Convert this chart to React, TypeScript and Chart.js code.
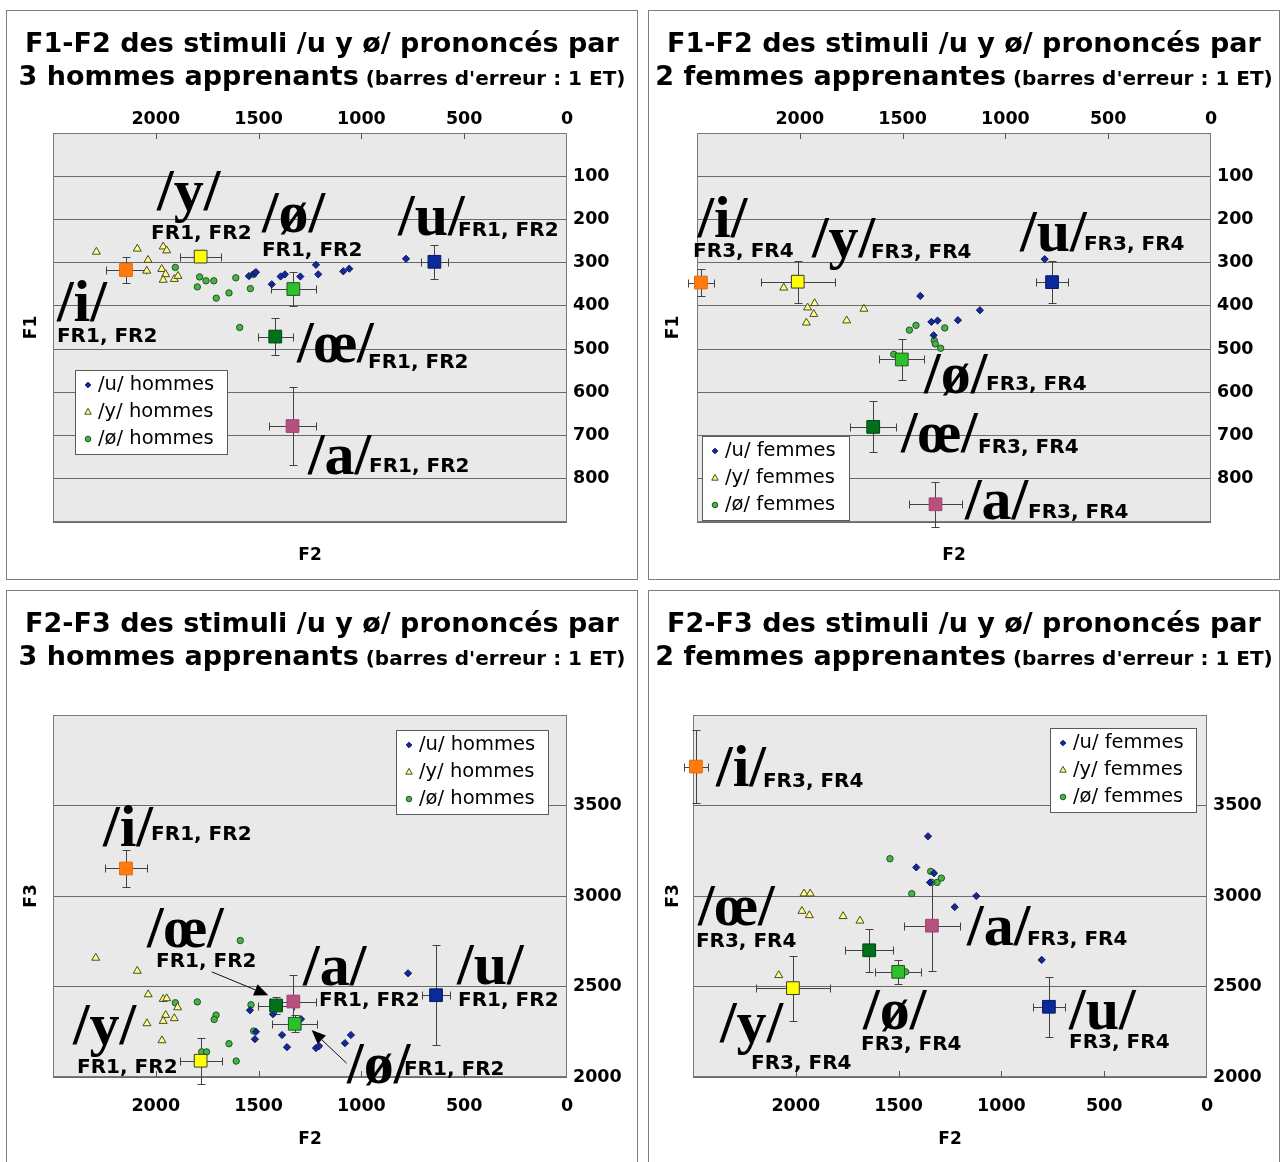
import React, { useEffect, useRef } from 'react';
import { Chart, registerables } from 'chart.js';

Chart.register(...registerables);

type Pt = [number, number];
type Note = { t: string; x: number; y: number; big?: boolean };
type Arrow = [number, number, number, number];

const SANS = '"DejaVu Sans", Verdana, sans-serif';
const SERIF = '"Liberation Serif", "Times New Roman", serif';

// ---------- axes ----------
const F2_MIN = 0, F2_MAX = 2500, F2_STEP = 500;
const F2_HIDDEN_LABELS = [2500];
const F1_MIN = 0, F1_MAX = 900, F1_STEP = 100;
const F1_HIDDEN_LABELS = [0, 900];
const F3_MIN = 2000, F3_MAX = 4000, F3_STEP = 500;
const F3_HIDDEN_LABELS = [4000];

// ---------- mean categories ----------
const MEAN_VOWELS = ['i', 'y', 'ø', 'œ', 'u', 'a'];
const MEAN_FILL = ['#ff7b10', '#ffff00', '#2cc12c', '#00701c', '#0b2a9a', '#b5507f'];
const MEAN_EDGE = ['#e86a00', '#3a3a3a', '#1c5a1c', '#004512', '#061a66', '#a24473'];

// ---------- Panel A : F1-F2, 3 hommes ----------
const A_U: Pt[] = [[1547, 331], [1521, 325], [1513, 322], [1436, 350], [1393, 332], [1372, 327], [1297, 332], [1221, 305], [1210, 327], [1088, 320], [1059, 314], [783, 291]];
const A_Y: Pt[] = [[2289, 275], [2090, 268], [1964, 263], [1947, 272], [2038, 294], [2044, 319], [1971, 315], [1952, 327], [1964, 340], [1910, 338], [1892, 331]];
const A_OE: Pt[] = [[1905, 311], [1787, 333], [1756, 342], [1718, 342], [1798, 356], [1706, 382], [1644, 370], [1611, 335], [1540, 360], [1524, 327], [1592, 450]];
const A_MEAN_F2 = [2145, 1782, 1331, 1419, 645, 1335];
const A_MEAN_F1 = [317, 286, 361, 471, 298, 678];
const A_SD_F2 = [99, 101, 109, 86, 65, 112];
const A_SD_F1 = [30, 12, 40, 42, 40, 91];
const A_NOTES: Note[] = [
  { t: '/y/', x: 1994, y: 178, big: true }, { t: 'FR1, FR2', x: 2023, y: 245 },
  { t: '/ø/', x: 1484, y: 229, big: true }, { t: 'FR1, FR2', x: 1484, y: 285 },
  { t: '/u/', x: 822, y: 236, big: true }, { t: 'FR1, FR2', x: 530, y: 238 },
  { t: '/i/', x: 2481, y: 435, big: true }, { t: 'FR1, FR2', x: 2481, y: 484 },
  { t: '/œ/', x: 1313, y: 530, big: true }, { t: 'FR1, FR2', x: 968, y: 544 },
  { t: '/a/', x: 1260, y: 789, big: true }, { t: 'FR1, FR2', x: 963, y: 784 },
];

// ---------- Panel B : F1-F2, 2 femmes ----------
const B_U: Pt[] = [[1414, 377], [1360, 437], [1330, 434], [1231, 433], [1124, 410], [1349, 468], [809, 292]];
const B_Y: Pt[] = [[2078, 358], [1962, 404], [1928, 394], [1932, 419], [1968, 439], [1772, 434], [1688, 407]];
const B_OE: Pt[] = [[1467, 456], [1435, 445], [1295, 451], [1346, 480], [1341, 488], [1315, 498], [1543, 512]];
const B_MEAN_F2 = [2481, 2010, 1504, 1643, 773, 1340];
const B_MEAN_F1 = [346, 344, 524, 680, 345, 859];
const B_SD_F2 = [63, 180, 109, 113, 76, 131];
const B_SD_F1 = [32, 49, 47, 59, 49, 52];
const B_NOTES: Note[] = [
  { t: '/i/', x: 2498, y: 241, big: true }, { t: 'FR3, FR4', x: 2519, y: 287 },
  { t: '/y/', x: 1941, y: 287, big: true }, { t: 'FR3, FR4', x: 1654, y: 289 },
  { t: '/u/', x: 929, y: 273, big: true }, { t: 'FR3, FR4', x: 618, y: 271 },
  { t: '/ø/', x: 1396, y: 602, big: true }, { t: 'FR3, FR4', x: 1094, y: 595 },
  { t: '/œ/', x: 1508, y: 738, big: true }, { t: 'FR3, FR4', x: 1133, y: 740 },
  { t: '/a/', x: 1197, y: 893, big: true }, { t: 'FR3, FR4', x: 890, y: 891 },
];

// ---------- Panel C : F2-F3, 3 hommes ----------
const C_U: Pt[] = [[1542, 2369], [1518, 2209], [1513, 2250], [1430, 2347], [1386, 2232], [1362, 2165], [1294, 2320], [1221, 2160], [1206, 2171], [1080, 2187], [1051, 2232], [773, 2573]];
const C_Y: Pt[] = [[2292, 2658], [2090, 2586], [2037, 2456], [1964, 2430], [1947, 2434], [1894, 2384], [1952, 2342], [2043, 2296], [1964, 2309], [1910, 2324], [1970, 2202]];
const C_OE: Pt[] = [[1589, 2754], [1905, 2410], [1798, 2415], [1707, 2342], [1716, 2318], [1644, 2184], [1609, 2088], [1537, 2399], [1524, 2254], [1777, 2139], [1753, 2139]];
const C_MEAN_F2 = [2145, 1782, 1324, 1415, 637, 1331];
const C_MEAN_F3 = [3152, 2090, 2294, 2395, 2452, 2417];
const C_SD_F2 = [102, 102, 109, 86, 66, 112];
const C_SD_F3 = [102, 127, 48, 46, 276, 145];
const C_NOTES: Note[] = [
  { t: '/i/', x: 2257, y: 3279, big: true }, { t: 'FR1, FR2', x: 2023, y: 3307 },
  { t: '/œ/', x: 2043, y: 2717, big: true }, { t: 'FR1, FR2', x: 1999, y: 2606 },
  { t: '/a/', x: 1284, y: 2507, big: true }, { t: 'FR1, FR2', x: 1206, y: 2391 },
  { t: '/u/', x: 535, y: 2513, big: true }, { t: 'FR1, FR2', x: 530, y: 2391 },
  { t: '/ø/', x: 1070, y: 1967, big: true }, { t: 'FR1, FR2', x: 793, y: 2011 },
  { t: '/y/', x: 2403, y: 2182, big: true }, { t: 'FR1, FR2', x: 2383, y: 2022 },
];
const C_ARROWS: Arrow[] = [[1728, 2581, 1453, 2452], [1072, 2076, 1242, 2259]];

// ---------- Panel D : F2-F3, 2 femmes ----------
const D_U: Pt[] = [[1357, 3330], [1414, 3158], [1328, 3126], [1347, 3075], [1122, 3000], [1227, 2939], [804, 2647]];
const D_Y: Pt[] = [[1960, 3013], [1930, 3013], [1970, 2917], [1934, 2893], [1770, 2888], [1688, 2863], [2083, 2562]];
const D_OE: Pt[] = [[1542, 3206], [1344, 3136], [1292, 3099], [1313, 3075], [1339, 3075], [1436, 3013], [1466, 2581]];
const D_MEAN_F2 = [2486, 2014, 1502, 1643, 769, 1338];
const D_MEAN_F3 = [3715, 2491, 2581, 2700, 2388, 2836];
const D_SD_F2 = [60, 178, 112, 117, 77, 135];
const D_SD_F3 = [202, 179, 66, 118, 166, 248];
const D_NOTES: Note[] = [
  { t: '/i/', x: 2388, y: 3610, big: true }, { t: 'FR3, FR4', x: 2160, y: 3604 },
  { t: '/œ/', x: 2476, y: 2838, big: true }, { t: 'FR3, FR4', x: 2486, y: 2717 },
  { t: '/y/', x: 2369, y: 2193, big: true }, { t: 'FR3, FR4', x: 2218, y: 2044 },
  { t: '/ø/', x: 1673, y: 2265, big: true }, { t: 'FR3, FR4', x: 1683, y: 2149 },
  { t: '/a/', x: 1167, y: 2728, big: true }, { t: 'FR3, FR4', x: 876, y: 2728 },
  { t: '/u/', x: 671, y: 2265, big: true }, { t: 'FR3, FR4', x: 671, y: 2160 },
];

const LEGEND_HOMMES = ['/u/ hommes', '/y/ hommes', '/ø/ hommes'];
const LEGEND_FEMMES = ['/u/ femmes', '/y/ femmes', '/ø/ femmes'];

const SERIES_STYLE = [
  { pointStyle: 'rectRot', radius: 3.6, fill: '#16279a', edge: '#0a1560', kind: 'diamond' },
  { pointStyle: 'triangle', radius: 4.6, fill: '#ffff88', edge: '#4a4a2a', kind: 'triangle' },
  { pointStyle: 'circle', radius: 3.2, fill: '#4caf4c', edge: '#1d5a1d', kind: 'circle' },
];

const CANVAS_W = 630;

interface PanelCfg {
  key: string;
  left: number; top: number; h: number;
  title1: string; title2: string;
  area: { l: number; t: number; r: number; b: number };
  xPos: 'top' | 'bottom'; xAxisH: number; xPad: number;
  yMin: number; yMax: number; yStep: number; yReverse: boolean; yHidden: number[];
  yTitle: string; yTitleDx: number; xTitleDy: number;
  series: Pt[][];
  mx: number[]; my: number[]; sx: number[]; sy: number[];
  notes: Note[]; arrows: Arrow[];
  legendLabels: string[]; legendBox: { dx: number; dy: number; w: number; h: number };
}

const PANELS: PanelCfg[] = [
  {
    key: 'A', left: 6, top: 10, h: 568,
    title1: 'F1-F2 des stimuli /u y ø/ prononcés par', title2: '3 hommes apprenants',
    area: { l: 46, t: 122, r: 560, b: 511 }, xPos: 'top', xAxisH: 30, xPad: 3,
    yMin: F1_MIN, yMax: F1_MAX, yStep: F1_STEP, yReverse: true, yHidden: F1_HIDDEN_LABELS,
    yTitle: 'F1', yTitleDx: -21, xTitleDy: 34,
    series: [A_U, A_Y, A_OE], mx: A_MEAN_F2, my: A_MEAN_F1, sx: A_SD_F2, sy: A_SD_F1,
    notes: A_NOTES, arrows: [], legendLabels: LEGEND_HOMMES, legendBox: { dx: 22, dy: 237, w: 153, h: 85 },
  },
  {
    key: 'B', left: 648, top: 10, h: 568,
    title1: 'F1-F2 des stimuli /u y ø/ prononcés par', title2: '2 femmes apprenantes',
    area: { l: 48, t: 122, r: 562, b: 511 }, xPos: 'top', xAxisH: 30, xPad: 3,
    yMin: F1_MIN, yMax: F1_MAX, yStep: F1_STEP, yReverse: true, yHidden: F1_HIDDEN_LABELS,
    yTitle: 'F1', yTitleDx: -23, xTitleDy: 34,
    series: [B_U, B_Y, B_OE], mx: B_MEAN_F2, my: B_MEAN_F1, sx: B_SD_F2, sy: B_SD_F1,
    notes: B_NOTES, arrows: [], legendLabels: LEGEND_FEMMES, legendBox: { dx: 5, dy: 303, w: 148, h: 85 },
  },
  {
    key: 'C', left: 6, top: 590, h: 578,
    title1: 'F2-F3 des stimuli /u y ø/ prononcés par', title2: '3 hommes apprenants',
    area: { l: 46, t: 124, r: 560, b: 486 }, xPos: 'bottom', xAxisH: 40, xPad: 19,
    yMin: F3_MIN, yMax: F3_MAX, yStep: F3_STEP, yReverse: false, yHidden: F3_HIDDEN_LABELS,
    yTitle: 'F3', yTitleDx: -21, xTitleDy: 63,
    series: [C_U, C_Y, C_OE], mx: C_MEAN_F2, my: C_MEAN_F3, sx: C_SD_F2, sy: C_SD_F3,
    notes: C_NOTES, arrows: C_ARROWS, legendLabels: LEGEND_HOMMES, legendBox: { dx: 343, dy: 15, w: 153, h: 85 },
  },
  {
    key: 'D', left: 648, top: 590, h: 578,
    title1: 'F2-F3 des stimuli /u y ø/ prononcés par', title2: '2 femmes apprenantes',
    area: { l: 44, t: 124, r: 558, b: 486 }, xPos: 'bottom', xAxisH: 40, xPad: 19,
    yMin: F3_MIN, yMax: F3_MAX, yStep: F3_STEP, yReverse: false, yHidden: F3_HIDDEN_LABELS,
    yTitle: 'F3', yTitleDx: -19, xTitleDy: 63,
    series: [D_U, D_Y, D_OE], mx: D_MEAN_F2, my: D_MEAN_F3, sx: D_SD_F2, sy: D_SD_F3,
    notes: D_NOTES, arrows: [], legendLabels: LEGEND_FEMMES, legendBox: { dx: 357, dy: 13, w: 147, h: 85 },
  },
];

function drawMarker(ctx: CanvasRenderingContext2D, kind: string, x: number, y: number, r: number, fill: string, edge: string) {
  ctx.beginPath();
  if (kind === 'diamond') {
    ctx.moveTo(x, y - r); ctx.lineTo(x + r, y); ctx.lineTo(x, y + r); ctx.lineTo(x - r, y); ctx.closePath();
  } else if (kind === 'triangle') {
    ctx.moveTo(x, y - r); ctx.lineTo(x + r * 0.9, y + r * 0.6); ctx.lineTo(x - r * 0.9, y + r * 0.6); ctx.closePath();
  } else {
    ctx.arc(x, y, r, 0, Math.PI * 2);
  }
  ctx.fillStyle = fill; ctx.fill();
  ctx.strokeStyle = edge; ctx.lineWidth = 1; ctx.stroke();
}

function buildChart(canvas: HTMLCanvasElement, c: PanelCfg): Chart {
  const H = c.h;
  const a = c.area;
  const xTop = c.xPos === 'top';
  const padTop = xTop ? a.t - c.xAxisH : a.t;
  const padBottom = xTop ? H - a.b : H - a.b - c.xAxisH;
  const yWidth = CANVAS_W - a.r;
  const tickFont = { family: SANS, size: 17.5, weight: 'bold' as const };

  const deco = {
    id: 'deco',
    beforeDraw(chart: any) {
      const { ctx, chartArea: ca } = chart;
      ctx.save();
      ctx.fillStyle = '#e9e9e9';
      ctx.fillRect(ca.left, ca.top, ca.right - ca.left, ca.bottom - ca.top);
      ctx.restore();
    },
    beforeDatasetsDraw(chart: any) {
      const { ctx, chartArea: ca, scales } = chart;
      const xs = scales.x, ys = scales.y;
      ctx.save();
      ctx.lineWidth = 1;
      ctx.strokeStyle = '#7a7a7a';
      ctx.strokeRect(Math.round(ca.left) + 0.5, Math.round(ca.top) + 0.5, Math.round(ca.right - ca.left) - 1, Math.round(ca.bottom - ca.top) - 1);
      ctx.strokeStyle = '#555';
      for (const t of xs.ticks) {
        const px = Math.round(xs.getPixelForValue(t.value)) + 0.5;
        if (px <= ca.left + 2 || px >= ca.right - 2) continue;
        ctx.beginPath();
        if (xTop) { ctx.moveTo(px, ca.top); ctx.lineTo(px, ca.top + 6); }
        else { ctx.moveTo(px, ca.bottom); ctx.lineTo(px, ca.bottom - 6); }
        ctx.stroke();
      }
      // error bars
      ctx.strokeStyle = '#424242';
      const cap = 4;
      for (let i = 0; i < c.mx.length; i++) {
        const cx = Math.round(xs.getPixelForValue(c.mx[i])) + 0.5;
        const cy = Math.round(ys.getPixelForValue(c.my[i])) + 0.5;
        const x1 = Math.round(xs.getPixelForValue(c.mx[i] + c.sx[i])) + 0.5;
        const x2 = Math.round(xs.getPixelForValue(c.mx[i] - c.sx[i])) + 0.5;
        const y1 = Math.round(ys.getPixelForValue(c.my[i] + c.sy[i])) + 0.5;
        const y2 = Math.round(ys.getPixelForValue(c.my[i] - c.sy[i])) + 0.5;
        ctx.beginPath();
        ctx.moveTo(x1, cy); ctx.lineTo(x2, cy);
        ctx.moveTo(x1, cy - cap); ctx.lineTo(x1, cy + cap);
        ctx.moveTo(x2, cy - cap); ctx.lineTo(x2, cy + cap);
        ctx.moveTo(cx, y1); ctx.lineTo(cx, y2);
        ctx.moveTo(cx - cap, y1); ctx.lineTo(cx + cap, y1);
        ctx.moveTo(cx - cap, y2); ctx.lineTo(cx + cap, y2);
        ctx.stroke();
      }
      ctx.restore();
    },
    afterDatasetsDraw(chart: any) {
      const { ctx, chartArea: ca, scales } = chart;
      const xs = scales.x, ys = scales.y;
      ctx.save();
      // labels
      ctx.fillStyle = '#000';
      ctx.textAlign = 'left';
      ctx.textBaseline = 'alphabetic';
      for (const n of c.notes) {
        ctx.font = n.big ? `bold 60px ${SERIF}` : `bold 20px ${SANS}`;
        ctx.fillText(n.t, xs.getPixelForValue(n.x), ys.getPixelForValue(n.y));
      }
      // arrows
      for (const ar of c.arrows) {
        const x1 = xs.getPixelForValue(ar[0]), y1 = ys.getPixelForValue(ar[1]);
        const x2 = xs.getPixelForValue(ar[2]), y2 = ys.getPixelForValue(ar[3]);
        const ang = Math.atan2(y2 - y1, x2 - x1);
        const len = 14, hw = 6;
        const bx = x2 - Math.cos(ang) * len, by = y2 - Math.sin(ang) * len;
        ctx.strokeStyle = '#111'; ctx.lineWidth = 1;
        ctx.beginPath(); ctx.moveTo(x1, y1); ctx.lineTo(bx, by); ctx.stroke();
        ctx.fillStyle = '#000';
        ctx.beginPath();
        ctx.moveTo(x2, y2);
        ctx.lineTo(bx + Math.sin(ang) * hw, by - Math.cos(ang) * hw);
        ctx.lineTo(bx - Math.sin(ang) * hw, by + Math.cos(ang) * hw);
        ctx.closePath(); ctx.fill();
      }
      // legend
      const lb = c.legendBox;
      const L = Math.round(ca.left + lb.dx), T = Math.round(ca.top + lb.dy);
      ctx.fillStyle = '#fff';
      ctx.fillRect(L, T, lb.w, lb.h);
      ctx.strokeStyle = '#5a5a5a'; ctx.lineWidth = 1;
      ctx.strokeRect(L + 0.5, T + 0.5, lb.w - 1, lb.h - 1);
      ctx.font = `19.5px ${SANS}`;
      ctx.textBaseline = 'middle';
      ctx.textAlign = 'left';
      c.legendLabels.forEach((lab, i) => {
        const ry = T + 14 + i * 27;
        const st = SERIES_STYLE[i];
        drawMarker(ctx, st.kind, L + 13, ry + 1, st.kind === 'triangle' ? 3.6 : 2.8, st.fill, st.edge);
        ctx.fillStyle = '#000';
        ctx.fillText(lab, L + 23, ry + 1);
      });
      // axis titles
      ctx.font = `bold 17px ${SANS}`;
      ctx.fillStyle = '#000';
      ctx.textAlign = 'center';
      ctx.textBaseline = 'middle';
      ctx.fillText('F2', (ca.left + ca.right) / 2, ca.bottom + c.xTitleDy);
      ctx.translate(ca.left + c.yTitleDx, (ca.top + ca.bottom) / 2);
      ctx.rotate(-Math.PI / 2);
      ctx.fillText(c.yTitle, 0, 0);
      ctx.restore();
    },
  };

  const meanData = c.mx.map((x, i) => ({ x, y: c.my[i] }));

  return new Chart(canvas, {
    type: 'scatter',
    data: {
      datasets: [
        {
          label: MEAN_VOWELS.join(' '),
          data: meanData,
          pointStyle: 'rect',
          pointRadius: 9,
          backgroundColor: MEAN_FILL,
          borderColor: MEAN_EDGE,
          borderWidth: 1,
          clip: false,
        } as any,
        ...c.series.map((s, k) => ({
          label: c.legendLabels[k],
          data: s.map(([x, y]) => ({ x, y })),
          pointStyle: SERIES_STYLE[k].pointStyle,
          pointRadius: SERIES_STYLE[k].radius,
          backgroundColor: SERIES_STYLE[k].fill,
          borderColor: SERIES_STYLE[k].edge,
          borderWidth: 1,
          clip: false,
        } as any)),
      ],
    },
    options: {
      responsive: false,
      animation: false,
      devicePixelRatio: 1,
      events: [],
      layout: { padding: { left: a.l, top: padTop, right: 0, bottom: padBottom } },
      plugins: { legend: { display: false }, tooltip: { enabled: false }, title: { display: false } },
      scales: {
        x: {
          type: 'linear',
          position: c.xPos,
          reverse: true,
          min: F2_MIN,
          max: F2_MAX,
          afterFit: (s: any) => { s.height = c.xAxisH; },
          grid: { display: false, drawTicks: false },
          border: { display: false },
          ticks: {
            stepSize: F2_STEP,
            autoSkip: false,
            maxRotation: 0,
            padding: c.xPad,
            color: '#000',
            font: tickFont,
            callback: (v: any) => (F2_HIDDEN_LABELS.includes(Number(v)) ? '' : String(v)),
          },
        },
        y: {
          type: 'linear',
          position: 'right',
          reverse: c.yReverse,
          min: c.yMin,
          max: c.yMax,
          afterFit: (s: any) => { s.width = yWidth; },
          grid: { display: true, drawTicks: false, color: '#6a6a6a', lineWidth: 1 },
          border: { display: false },
          ticks: {
            stepSize: c.yStep,
            autoSkip: false,
            padding: 6,
            color: '#000',
            font: tickFont,
            callback: (v: any) => (c.yHidden.includes(Number(v)) ? '' : String(v)),
          },
        },
      },
    } as any,
    plugins: [deco],
  });
}

function Panel({ c }: { c: PanelCfg }) {
  const ref = useRef<HTMLCanvasElement>(null);
  useEffect(() => {
    if (!ref.current) return;
    const chart = buildChart(ref.current, c);
    return () => chart.destroy();
  }, [c]);
  return (
    <div
      style={{
        position: 'absolute', left: c.left, top: c.top, width: CANVAS_W, height: c.h,
        border: '1px solid #7f7f7f', background: '#fff', overflow: 'hidden',
      }}
    >
      <canvas ref={ref} width={CANVAS_W} height={c.h} style={{ position: 'absolute', left: 0, top: 0, width: CANVAS_W, height: c.h }} />
      <div
        style={{
          position: 'absolute', left: 0, top: 15, width: CANVAS_W, textAlign: 'center',
          fontFamily: SANS, fontWeight: 'bold', fontSize: 27, lineHeight: '33px', color: '#000', whiteSpace: 'nowrap',
        }}
      >
        <div>{c.title1}</div>
        <div>
          {c.title2}
          <span style={{ fontSize: 20 }}> (barres d'erreur : 1 ET)</span>
        </div>
      </div>
    </div>
  );
}

export default function App() {
  return (
    <div style={{ position: 'absolute', left: 0, top: 0, width: 1282, height: 1162, overflow: 'hidden', background: '#fff' }}>
      {PANELS.map((p) => (
        <Panel key={p.key} c={p} />
      ))}
    </div>
  );
}
